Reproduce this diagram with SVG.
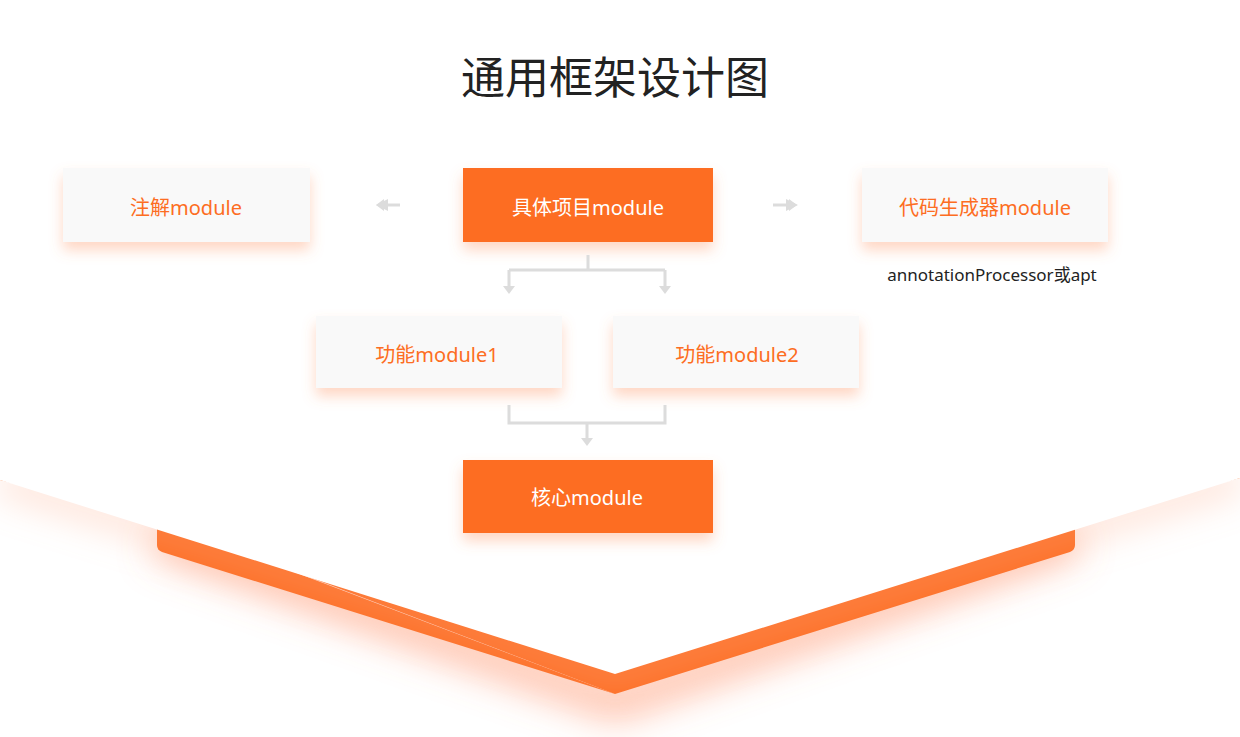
<svg xmlns="http://www.w3.org/2000/svg" width="1240" height="737" viewBox="0 0 1240 737">
<style>
text{font-family:"Noto Sans","Noto Sans CJK SC",sans-serif;text-anchor:middle}
.t{font-size:20px}
.w{fill:#ffffff}
.o{fill:#fd6d22}
.lb{fill:#f9f9f9;filter:url(#sh)}
.ob{fill:#fd6d22;filter:url(#sh)}
.c{fill:none;stroke:#dcdcdc;stroke-width:3}
</style>
<defs>
<filter id="sh" x="-20%" y="-20%" width="140%" height="180%"><feDropShadow dx="0" dy="8" stdDeviation="7" flood-color="#ff8a55" flood-opacity="0.35"/></filter>
<filter id="bl" x="-20%" y="-50%" width="140%" height="200%"><feGaussianBlur stdDeviation="18"/></filter>
<marker id="ah" viewBox="0 0 10 10" refX="5" refY="5" markerWidth="4" markerHeight="4" orient="auto"><path d="M0,0L10,5L0,10z" fill="#dcdcdc"/></marker>
</defs>
<rect width="1240" height="737" fill="#ffffff"/>
<g id="band">
<path d="M157,540 L615,705 L1075,540" fill="none" stroke="#fd8a60" stroke-opacity="0.55" stroke-width="30" filter="url(#bl)"/>
<path d="M0,480 L160,520 L615,694 L1070,552 Q1075,550 1075,545 L1075,520 L1240,478 Z" fill="#fd6d22"/>
<path d="M157,520 L157,545 Q157,550 162,552 L615,694" fill="#fd6d22"/>
<path d="M0,480 L0,560" fill="none"/>
<path d="M0,480 L615,674 L1240,478" fill="none" stroke="#fdb090" stroke-opacity="0.5" stroke-width="20" filter="url(#bl)"/>
<path d="M0,0 L1240,0 L1240,478 L615,674 L0,480 Z" fill="#ffffff"/>
</g>
<text x="615" y="94" style="font-size:44px;fill:#222">通用框架设计图</text>
<g id="n1"><rect class="lb" x="63" y="168" width="247" height="74"/><text class="t o" x="186" y="215">注解module</text></g>
<g id="n2"><rect class="ob" x="463" y="168" width="250" height="74"/><text class="t w" x="588" y="215">具体项目module</text></g>
<g id="n3"><rect class="lb" x="862" y="168" width="246" height="74"/><text class="t o" x="985" y="215">代码生成器module</text><text x="992" y="281" style="font-size:17px;fill:#222">annotationProcessor或apt</text></g>
<g id="n4"><rect class="lb" x="316" y="316" width="246" height="72"/><text class="t o" x="437" y="362">功能module1</text></g>
<g id="n5"><rect class="lb" x="613" y="316" width="246" height="72"/><text class="t o" x="737" y="362">功能module2</text></g>
<g id="n6"><rect class="ob" x="463" y="460" width="250" height="73"/><text class="t w" x="587" y="505">核心module</text></g>
<g id="connectors">
<path class="c" d="M400,205 H382" marker-end="url(#ah)"/>
<path class="c" d="M773,205 H792" marker-end="url(#ah)"/>
<path class="c" d="M588,255 V270 M509,270 H665 M509,270 V288 M665,270 V288" />
<path d="M503,286 L509,294 L515,286 Z M659,286 L665,294 L671,286 Z" fill="#dcdcdc"/>
<path class="c" d="M509,405 V423 H665 V405 M587,423 V440"/>
<path d="M581,438 L587,446 L593,438 Z" fill="#dcdcdc"/>
<path d="M384,199 L376,205 L384,211 Z M789,199 L797,205 L789,211 Z" fill="#dcdcdc"/>
</g>
</svg>
